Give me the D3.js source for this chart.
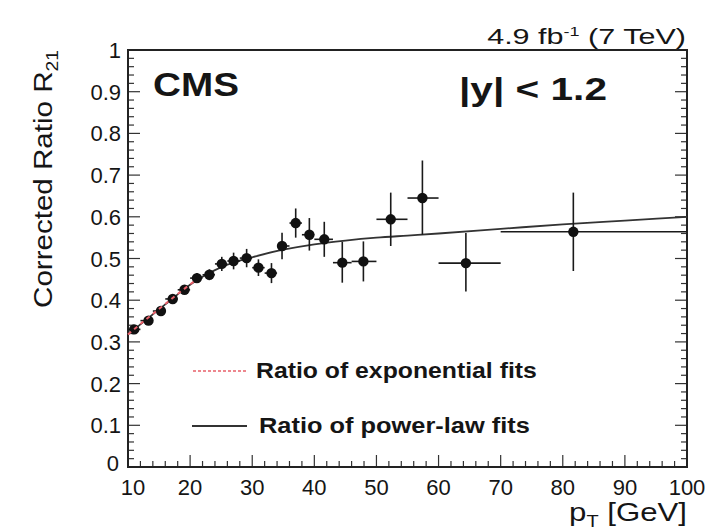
<!DOCTYPE html>
<html>
<head>
<meta charset="utf-8">
<script src="https://cdn.jsdelivr.net/npm/d3@7"></script>
<style>
  body { margin: 0; background: #fff; }
  text { font-family: "Liberation Sans", Arial, Helvetica, sans-serif; fill: #151515; }
</style>
</head>
<body>
<div id="chart"></div>
<script>
var WIDTH = 705, HEIGHT = 531;
var margin = { left: 128, right: 18, top: 50, bottom: 64 };

// measured points (corrected ratio R21 vs pT)
var ptValues    = [11.0, 13.3, 15.3, 17.2, 19.1, 21.1, 23.1, 25.1, 27.0, 29.1, 31.0, 33.1, 34.8, 37.0, 39.2, 41.6, 44.5, 47.9, 52.3, 57.4, 64.4, 81.7];
var ratioValues = [0.330, 0.351, 0.374, 0.403, 0.425, 0.453, 0.461, 0.487, 0.494, 0.501, 0.478, 0.465, 0.530, 0.585, 0.557, 0.546, 0.490, 0.493, 0.594, 0.645, 0.489, 0.564];
var errLow      = [0.008, 0.008, 0.008, 0.009, 0.009, 0.012, 0.013, 0.017, 0.020, 0.022, 0.020, 0.024, 0.032, 0.035, 0.038, 0.042, 0.048, 0.048, 0.064, 0.088, 0.068, 0.094];
var errHigh     = [0.008, 0.008, 0.008, 0.009, 0.009, 0.012, 0.013, 0.017, 0.020, 0.022, 0.020, 0.024, 0.032, 0.035, 0.040, 0.042, 0.050, 0.048, 0.064, 0.090, 0.072, 0.094];
var binLow      = [10, 12, 14, 16, 18, 20, 22, 24, 26, 28, 30, 32, 34, 36, 38, 40, 43, 46, 50, 55, 60, 70];
var binHigh     = [12, 14, 16, 18, 20, 22, 24, 26, 28, 30, 32, 34, 36, 38, 40, 43, 46, 50, 55, 60, 70, 100];

// fit curves
var powPt    = [10, 12, 14, 16, 18, 20, 22, 24, 26, 28, 30, 35, 40, 45, 50, 55, 60, 70, 80, 90, 100];
var powRatio = [0.318, 0.342, 0.366, 0.390, 0.414, 0.437, 0.456, 0.472, 0.485, 0.495, 0.503, 0.521, 0.534, 0.543, 0.550, 0.555, 0.560, 0.571, 0.582, 0.591, 0.600];
var expPt    = [10, 12, 14, 16, 18, 20, 21];
var expRatio = [0.318, 0.343, 0.367, 0.391, 0.415, 0.438, 0.449];

// axes
var xTicks = [10, 20, 30, 40, 50, 60, 70, 80, 90, 100];
var xTickLabels = ['10', '20', '30', '40', '50', '60', '70', '80', '90', '100'];
var yTicks = [0, 0.1, 0.2, 0.3, 0.4, 0.5, 0.6, 0.7, 0.8, 0.9, 1];
var yTickLabels = ['0', '0.1', '0.2', '0.3', '0.4', '0.5', '0.6', '0.7', '0.8', '0.9', '1'];

var legendLabels = ['Ratio of exponential fits', 'Ratio of power-law fits'];

var svg = d3.select('#chart').append('svg')
  .attr('width', WIDTH)
  .attr('height', HEIGHT);

var x = d3.scaleLinear().domain([10, 100]).range([margin.left, WIDTH - margin.right]);
var y = d3.scaleLinear().domain([0, 1]).range([HEIGHT - margin.bottom, margin.top]);

// stretch a text so it covers the width seen in the picture
var placeText = function(sel, px, py, width, rotate) {
  var w = sel.node().getBBox().width;
  var s = width / w;
  var t = 'translate(' + px + ',' + py + ')';
  if (rotate) t += ' rotate(-90)';
  sel.attr('transform', t + ' scale(' + s + ',1)');
  return sel;
};

var drawAxes = function() {
  var frame = svg.append('g');
  var x0 = x.range()[0], x1 = x.range()[1];
  var y0 = y.range()[0], y1 = y.range()[1];

  // minor ticks every 2 GeV / 0.02
  var xMinor = d3.range(10, 100.01, 2);
  var yMinor = d3.range(0, 1.001, 0.02);

  frame.selectAll('.xt').data(xMinor).enter().append('line')
    .attr('x1', function(d) { return x(d); }).attr('x2', function(d) { return x(d); })
    .attr('y1', y0).attr('y2', function(d) { return d % 10 == 0 ? y0 - 12 : y0 - 6; })
    .attr('stroke', '#333').attr('stroke-width', 1.2);

  frame.selectAll('.yl').data(yMinor).enter().append('line')
    .attr('x1', x0).attr('x2', function(d, i) { return i % 5 == 0 ? x0 + 12 : x0 + 6; })
    .attr('y1', function(d) { return y(d); }).attr('y2', function(d) { return y(d); })
    .attr('stroke', '#333').attr('stroke-width', 1.2);

  frame.selectAll('.yr').data(yMinor).enter().append('line')
    .attr('x1', x1).attr('x2', function(d, i) { return i % 5 == 0 ? x1 - 12 : x1 - 6; })
    .attr('y1', function(d) { return y(d); }).attr('y2', function(d) { return y(d); })
    .attr('stroke', '#333').attr('stroke-width', 1.2);

  frame.append('rect')
    .attr('x', x0).attr('y', y1)
    .attr('width', x1 - x0).attr('height', y0 - y1)
    .attr('fill', 'none').attr('stroke', '#222').attr('stroke-width', 2);

  // first label sits a little right, clear of the y-axis "0"
  svg.selectAll('.xlab').data(xTicks).enter().append('text')
    .attr('x', function(d, i) { return i == 0 ? x(d) + 5 : x(d); })
    .attr('y', y0 + 28)
    .attr('text-anchor', 'middle')
    .attr('font-size', 22)
    .text(function(d, i) { return xTickLabels[i]; });

  svg.selectAll('.ylab').data(yTicks).enter().append('text')
    .attr('x', function(d, i) { return i == 0 ? x0 - 9 : x0 - 7; })
    .attr('y', function(d, i) { return i == 0 ? y(d) + 4 : y(d) + 8; })
    .attr('text-anchor', 'end')
    .attr('font-size', 22)
    .text(function(d, i) { return yTickLabels[i]; });

  // axis titles
  var yt = svg.append('text').attr('font-size', 26).attr('text-anchor', 'end');
  yt.append('tspan').text('Corrected Ratio R');
  yt.append('tspan').attr('font-size', 17).attr('dy', 6).text('21');
  placeText(yt, 52, 50, 258, true);

  var xt = svg.append('text').attr('font-size', 25).attr('text-anchor', 'end');
  xt.append('tspan').text('p');
  xt.append('tspan').attr('font-size', 16).attr('dy', 6).text('T');
  xt.append('tspan').attr('dy', -6).text(' [GeV]');
  placeText(xt, x1, 521, 118, false);
};

var drawCurves = function() {
  var line = d3.line()
    .x(function(d) { return x(d[0]); })
    .y(function(d) { return y(d[1]); })
    .curve(d3.curveMonotoneX);

  svg.append('path')
    .datum(d3.zip(powPt, powRatio))
    .attr('d', line)
    .attr('fill', 'none').attr('stroke', '#333').attr('stroke-width', 1.8);
};

var drawPoints = function() {
  var pts = d3.range(ptValues.length).map(function(i) {
    return { pt: ptValues[i], v: ratioValues[i], lo: errLow[i], hi: errHigh[i], b0: binLow[i], b1: binHigh[i] };
  });

  var g = svg.append('g');
  g.selectAll('.ev').data(pts).enter().append('line')
    .attr('x1', function(d) { return x(d.pt); }).attr('x2', function(d) { return x(d.pt); })
    .attr('y1', function(d) { return y(d.v - d.lo); }).attr('y2', function(d) { return y(d.v + d.hi); })
    .attr('stroke', '#1a1a1a').attr('stroke-width', 1.6);

  g.selectAll('.eh').data(pts).enter().append('line')
    .attr('x1', function(d) { return x(d.b0); }).attr('x2', function(d) { return x(d.b1); })
    .attr('y1', function(d) { return y(d.v); }).attr('y2', function(d) { return y(d.v); })
    .attr('stroke', '#1a1a1a').attr('stroke-width', 1.6);

  g.selectAll('circle').data(pts).enter().append('circle')
    .attr('cx', function(d) { return x(d.pt); })
    .attr('cy', function(d) { return y(d.v); })
    .attr('r', 5.2)
    .attr('fill', '#111');

  // exponential-fit ratio drawn over the low-pT markers
  var line = d3.line()
    .x(function(d) { return x(d[0]); })
    .y(function(d) { return y(d[1]); });
  svg.append('path')
    .datum(d3.zip(expPt, expRatio))
    .attr('d', line)
    .attr('fill', 'none').attr('stroke', '#e8606a').attr('stroke-width', 2)
    .attr('stroke-dasharray', '4,4');
};

var drawLabels = function() {
  var cms = svg.append('text').attr('font-size', 33).attr('font-weight', 'bold').text('CMS');
  placeText(cms, 153, 96, 86, false);

  var rap = svg.append('text').attr('font-size', 32).attr('font-weight', 'bold').text('|y| < 1.2');
  placeText(rap, 459, 100, 148, false);

  var lumi = svg.append('text').attr('font-size', 22).attr('text-anchor', 'end');
  lumi.append('tspan').text('4.9 fb');
  lumi.append('tspan').attr('font-size', 13).attr('dy', -8).text('-1');
  lumi.append('tspan').attr('dy', 8).text(' (7 TeV)');
  placeText(lumi, 686, 44, 199, false);

  // legend
  svg.append('line')
    .attr('x1', 193).attr('x2', 247).attr('y1', 371).attr('y2', 371)
    .attr('stroke', '#e8606a').attr('stroke-width', 1.6).attr('stroke-dasharray', '3,2');
  svg.append('line')
    .attr('x1', 192).attr('x2', 247).attr('y1', 426).attr('y2', 426)
    .attr('stroke', '#333').attr('stroke-width', 2);

  var l1 = svg.append('text').attr('font-size', 22).attr('font-weight', 'bold').text(legendLabels[0]);
  placeText(l1, 256, 378, 281, false);
  var l2 = svg.append('text').attr('font-size', 22).attr('font-weight', 'bold').text(legendLabels[1]);
  placeText(l2, 259, 433, 271, false);
};

drawAxes();
drawCurves();
drawPoints();
drawLabels();
</script>
</body>
</html>
